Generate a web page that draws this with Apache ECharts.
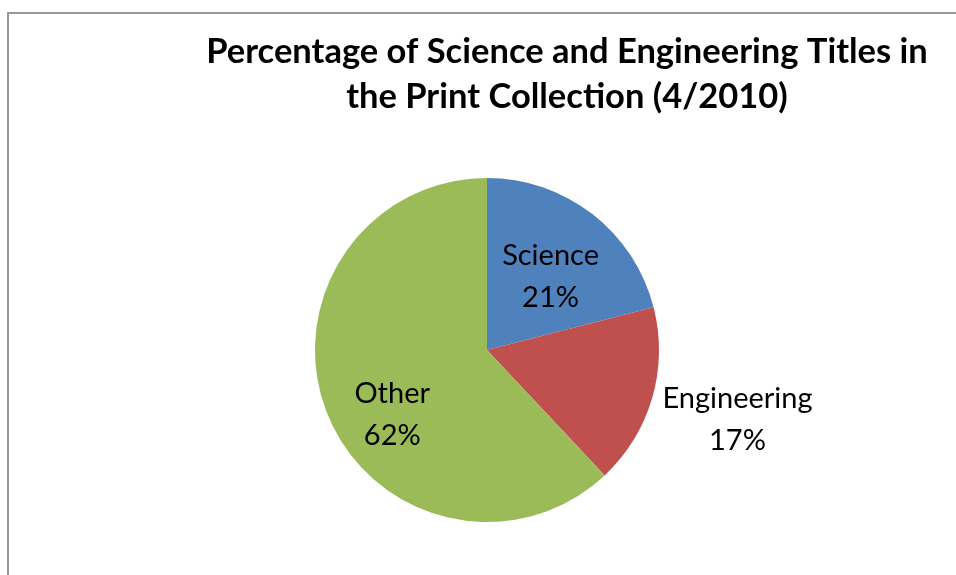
<!DOCTYPE html>
<html>
<head>
<meta charset="utf-8">
<script src="https://cdn.jsdelivr.net/npm/echarts@6/dist/echarts.min.js"></script>
<style>
  html, body { margin: 0; padding: 0; background: #fff; }
  #chart { width: 956px; height: 575px; }
</style>
</head>
<body>
<div id="chart"></div>
<script>
const categories = ['Science', 'Engineering', 'Other']
const values = [21, 17, 62]
const colors = ['#4F81BD', '#C0504D', '#9BBB59']
// label nudges so the text sits where Excel put it
const labelOffsets = [[9, -3], [165, 45], [-12, 32]]

const myChart = echarts.init(document.getElementById('chart'))
const font = 'Lato, "Open Sans", sans-serif'

const option = {
  animation: false,
  title: {
    text: 'Percentage of Science and Engineering Titles in\nthe Print Collection (4/2010)',
    left: 562,
    top: 24,
    textAlign: 'center',
    textStyle: {
      fontFamily: font,
      fontWeight: 'bold',
      fontSize: 34.5,
      lineHeight: 45,
      color: '#000'
    }
  },
  graphic: [
    {
      type: 'rect',
      shape: { x: 8, y: 13, width: 1000, height: 700 },
      style: { fill: 'none', stroke: '#999', lineWidth: 2 },
      silent: true
    }
  ],
  series: [
    {
      type: 'pie',
      center: [487, 350],
      radius: [0, 172],
      startAngle: 90,
      clockwise: true,
      silent: true,
      labelLine: { show: false },
      data: categories.map((name, i) => ({
        name: name,
        value: values[i],
        itemStyle: { color: colors[i] },
        label: {
          show: true,
          position: 'inside',
          offset: labelOffsets[i],
          formatter: '{b}\n{d}%',
          fontFamily: font,
          fontSize: 29,
          lineHeight: 42,
          color: '#000',
          align: 'center'
        }
      }))
    }
  ]
}
myChart.setOption(option)
</script>
</body>
</html>
